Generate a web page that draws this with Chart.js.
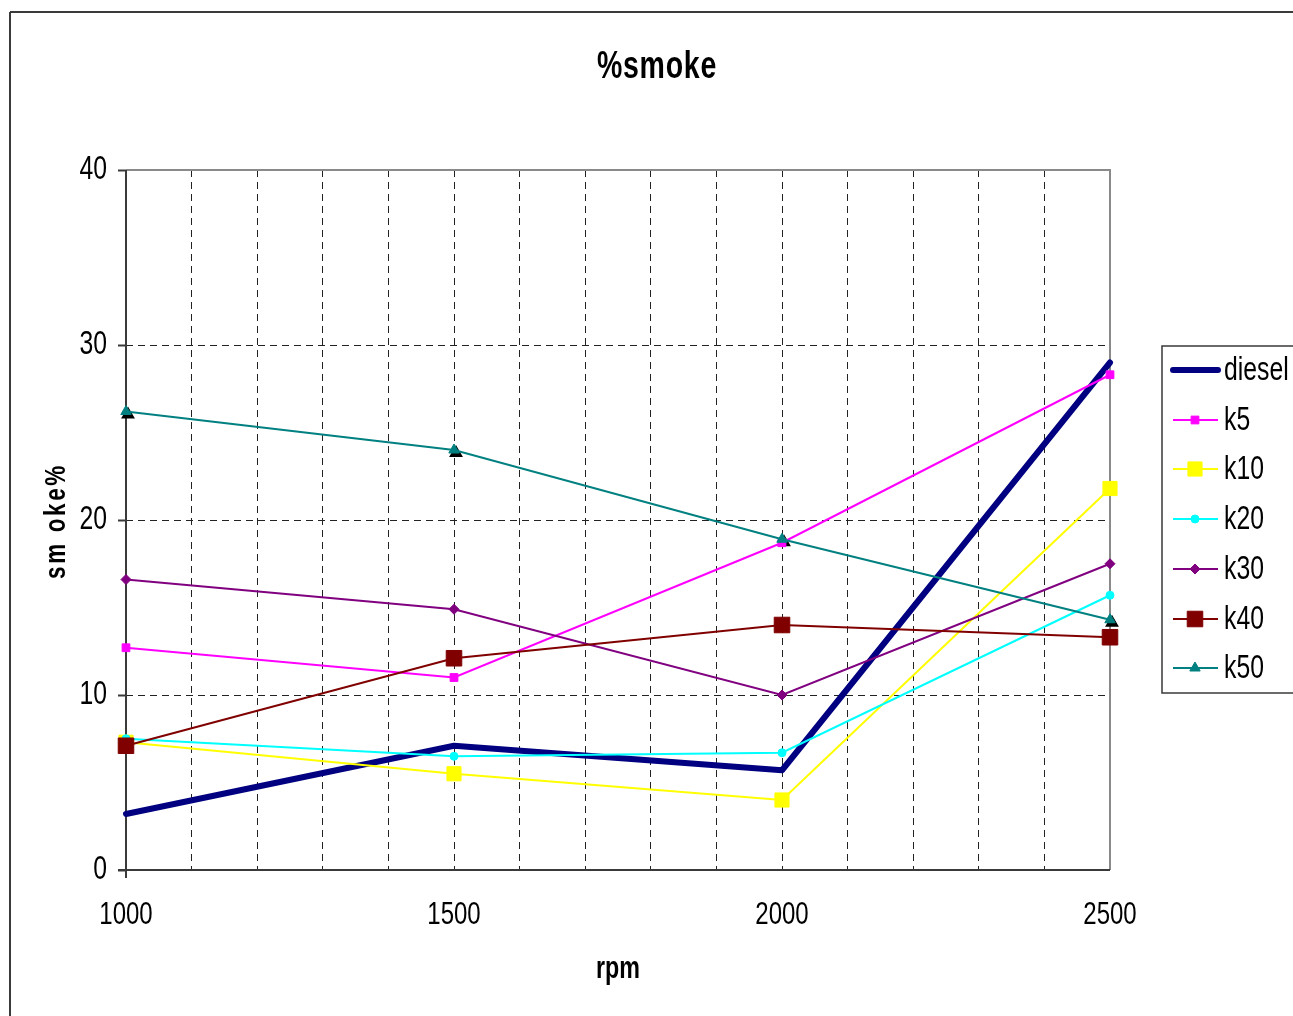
<!DOCTYPE html>
<html>
<head>
<meta charset="utf-8">
<title>%smoke</title>
<script src="https://cdn.jsdelivr.net/npm/chart.js@4/dist/chart.umd.min.js"></script>
<style>
  html, body { margin: 0; padding: 0; background: #ffffff; }
  #wrap { width: 1293px; height: 1016px; position: relative; }
</style>
</head>
<body>
<div id="wrap"><canvas id="c" width="1293" height="1016"></canvas></div>
<script>
// Engine speed (rpm) at which smoke was measured
const rpm = [1000, 1500, 2000, 2500];

// Smoke opacity (%) per fuel blend
const diesel = [3.2, 7.1, 5.7, 29.0];
const k5  = [12.7, 11.0, 18.7, 28.3];
const k10 = [7.3, 5.5, 4.0, 21.8];
const k20 = [7.5, 6.5, 6.7, 15.7];
const k30 = [16.6, 14.9, 10.0, 17.5];
const k40 = [7.1, 12.1, 14.0, 13.3];
const k50 = [26.2, 24.0, 18.9, 14.3];

// Axis tick labels
const xTickLabels = ['1000', '1500', '2000', '2500'];
const yTickLabels = ['0', '10', '20', '30', '40'];

const FONT = "'Liberation Sans Narrow', 'Arial Narrow', 'Liberation Sans', Arial, sans-serif";

const canvas = document.getElementById('c');
const ctx2d = canvas.getContext('2d');

// Condensed lettering: every string is squeezed horizontally around its anchor
const NARROW = 0.75;
const baseFillText = ctx2d.fillText.bind(ctx2d);
ctx2d.fillText = function (text, x, y, maxWidth) {
  this.save();
  this.translate(x, y);
  this.scale(NARROW, 1);
  if (maxWidth === undefined) baseFillText(text, 0, 0);
  else baseFillText(text, 0, 0, maxWidth / NARROW);
  this.restore();
};

function series(label, values, color, width, style, radius) {
  return {
    label: label,
    data: values.map((v, i) => ({ x: rpm[i], y: v })),
    borderColor: color,
    backgroundColor: color,
    borderWidth: width,
    pointStyle: style,
    pointRadius: radius,
    pointBackgroundColor: color,
    pointBorderColor: color,
    pointBorderWidth: 1,
    pointHoverRadius: radius,
    tension: 0,
    clip: false,
    fill: false
  };
}

const datasets = [
  series('diesel', diesel, '#000080', 6, false, 0),
  series('k5',  k5,  '#FF00FF', 2, 'rect', 5.5),
  series('k10', k10, '#FFFF00', 2, 'rect', 10),
  series('k20', k20, '#00FFFF', 2, 'circle', 4),
  series('k30', k30, '#800080', 2, 'rectRot', 5),
  series('k40', k40, '#800000', 2, 'rect', 11),
  series('k50', k50, '#008080', 2, 'triangle', 6)
];
// later series are painted over earlier ones
datasets.forEach((d, i) => { d.order = datasets.length - i; });
datasets[0].borderCapStyle = 'round';
datasets[0].borderJoinStyle = 'round';

// Page frame, plot frame, titles and legend
const decor = {
  id: 'decor',
  beforeDraw(chart) {
    const ctx = chart.ctx;
    ctx.save();
    ctx.fillStyle = '#ffffff';
    ctx.fillRect(0, 0, chart.width, chart.height);
    ctx.strokeStyle = '#3a3a3a';
    ctx.lineWidth = 2;
    ctx.beginPath();
    ctx.moveTo(10, 12); ctx.lineTo(chart.width, 12);
    ctx.moveTo(10, 12); ctx.lineTo(10, chart.height);
    ctx.stroke();
    ctx.restore();
  },
  beforeDatasetsDraw(chart) {
    const ctx = chart.ctx;
    const a = chart.chartArea;
    ctx.save();
    ctx.lineWidth = 2;
    ctx.strokeStyle = '#8a8a8a';
    ctx.beginPath();
    ctx.moveTo(a.left, a.top); ctx.lineTo(a.right, a.top); ctx.lineTo(a.right, a.bottom);
    ctx.stroke();
    ctx.strokeStyle = '#3a3a3a';
    ctx.beginPath();
    ctx.moveTo(a.left - 8, a.bottom); ctx.lineTo(a.right, a.bottom);
    ctx.moveTo(a.left, a.top); ctx.lineTo(a.left, a.bottom + 8);
    ctx.stroke();

    // dark drop shadow under the k50 triangles
    const meta = chart.getDatasetMeta(6);
    ctx.fillStyle = '#000000';
    ctx.strokeStyle = '#000000';
    meta.data.forEach(p => {
      Chart.helpers.drawPoint(ctx, { pointStyle: 'triangle', radius: 6, rotation: 0, borderWidth: 1 }, p.x + 2, p.y + 3);
    });
    ctx.restore();
  },
  afterDraw(chart) {
    const ctx = chart.ctx;
    ctx.save();
    // chart title
    ctx.fillStyle = '#000000';
    ctx.textAlign = 'center';
    ctx.textBaseline = 'middle';
    ctx.font = 'bold 38px ' + FONT;
    ctx.letterSpacing = '1px';
    ctx.fillText('%smoke', 657, 68);
    ctx.letterSpacing = '0px';

    // y axis title
    ctx.save();
    ctx.translate(57, 521);
    ctx.rotate(-Math.PI / 2);
    ctx.font = 'bold 30px ' + FONT;
    ctx.letterSpacing = '3.5px';
    ctx.fillText('sm oke%', 0, 0);
    ctx.restore();

    // legend
    const lx = 1162, ly = 346, lh = 347;
    ctx.strokeStyle = '#3a3a3a';
    ctx.lineWidth = 1.5;
    ctx.strokeRect(lx, ly, 200, lh);
    const rowY = [370, 420, 469, 519, 569, 619, 668];
    chart.data.datasets.forEach((d, i) => {
      const y = rowY[i];
      ctx.strokeStyle = d.borderColor;
      ctx.lineWidth = d.borderWidth;
      ctx.lineCap = i === 0 ? 'round' : 'butt';
      ctx.beginPath();
      ctx.moveTo(1173, y); ctx.lineTo(1218, y);
      ctx.stroke();
      if (d.pointStyle) {
        ctx.fillStyle = d.pointBackgroundColor;
        ctx.strokeStyle = d.pointBorderColor;
        ctx.lineWidth = 1;
        Chart.helpers.drawPoint(ctx, { pointStyle: d.pointStyle, radius: d.pointRadius, rotation: 0, borderWidth: 1 }, 1195, y);
      }
      ctx.fillStyle = '#000000';
      ctx.textAlign = 'left';
      ctx.textBaseline = 'middle';
      ctx.font = '33px ' + FONT;
      ctx.fillText(d.label, 1224, y + 1);
    });
    ctx.restore();
  }
};

new Chart(canvas, {
  type: 'line',
  data: { datasets: datasets },
  options: {
    responsive: false,
    animation: false,
    events: [],
    layout: { padding: { top: 170, right: 183, left: 0, bottom: 0 } },
    plugins: { legend: { display: false }, title: { display: false }, tooltip: { enabled: false } },
    scales: {
      x: {
        type: 'linear',
        min: 1000,
        max: 2500,
        afterFit(s) { s.height = 146; },
        border: { display: false, dash: [7, 5] },
        grid: {
          color: c => (c.tick && (c.tick.value === 1000 || c.tick.value === 2500)) ? 'rgba(0,0,0,0)' : '#222222',
          lineWidth: 1,
          drawTicks: false
        },
        ticks: {
          stepSize: 100,
          autoSkip: false,
          maxRotation: 0,
          padding: 26,
          color: '#000000',
          font: { family: FONT, size: 32 },
          callback: v => {
            const i = rpm.indexOf(v);
            return i >= 0 ? xTickLabels[i] : '';
          }
        },
        title: {
          display: true,
          text: 'rpm',
          color: '#000000',
          font: { family: FONT, size: 31, weight: 'bold' },
          padding: { top: 0, bottom: 28 }
        }
      },
      y: {
        min: 0,
        max: 40,
        afterFit(s) { s.width = 126; },
        border: { display: false, dash: [7, 5] },
        grid: {
          color: c => (c.tick && (c.tick.value === 0 || c.tick.value === 40)) ? 'rgba(0,0,0,0)' : '#222222',
          lineWidth: 1,
          tickLength: 8,
          tickColor: '#3a3a3a',
          tickWidth: 2
        },
        ticks: {
          stepSize: 10,
          padding: 11,
          color: '#000000',
          font: { family: FONT, size: 33 },
          callback: v => yTickLabels[v / 10]
        }
      }
    }
  },
  plugins: [decor]
});
</script>
</body>
</html>
